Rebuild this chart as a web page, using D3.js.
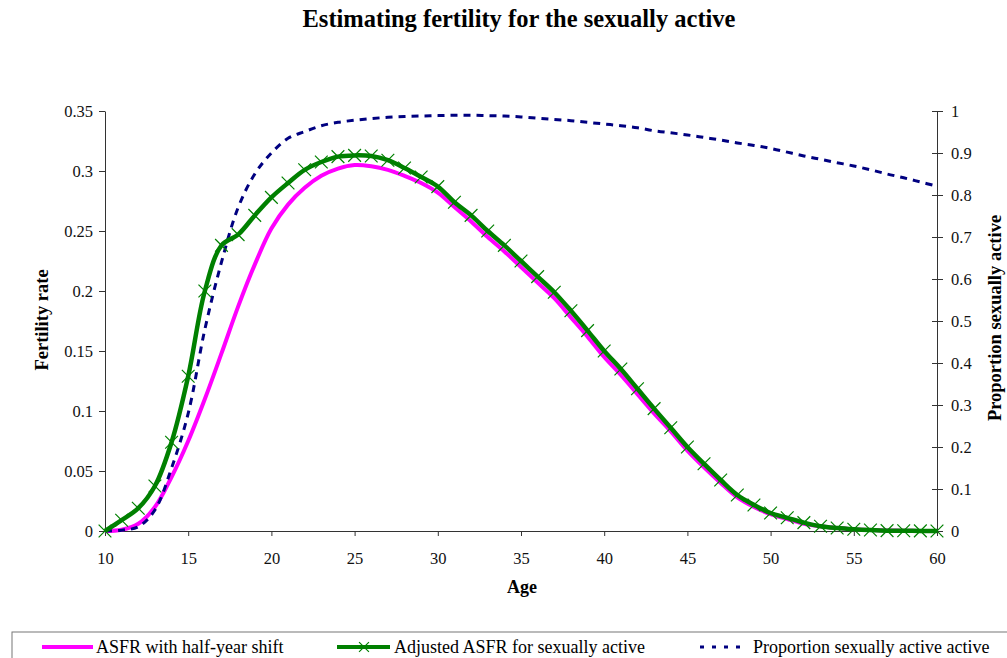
<!DOCTYPE html>
<html>
<head>
<meta charset="utf-8">
<script src="https://cdn.jsdelivr.net/npm/d3@7"></script>
<style>
  body { margin: 0; background: #fff; }
  text { font-family: "Liberation Serif", "Times New Roman", serif; }
</style>
</head>
<body>
<script>
// chart data
const ages = d3.range(10, 61);
const asfrShift = [0, 0.001, 0.006, 0.02, 0.045, 0.075, 0.11, 0.148, 0.187, 0.222,
  0.252, 0.272, 0.286, 0.296, 0.302, 0.305, 0.304, 0.301, 0.296, 0.29,
  0.282, 0.27, 0.258, 0.245, 0.233, 0.22, 0.207, 0.194, 0.178, 0.162,
  0.145, 0.13, 0.114, 0.098, 0.083, 0.067, 0.053, 0.04, 0.028, 0.02,
  0.014, 0.01, 0.006, 0.004, 0.0025, 0.0015, 0.0008, 0.0004, 0.0002, 0.0001, 0];
const asfrAdjusted = [0, 0.009, 0.019, 0.0375, 0.074, 0.129, 0.2, 0.238, 0.247, 0.263,
  0.278, 0.29, 0.301, 0.3075, 0.312, 0.313, 0.3125, 0.309, 0.3025, 0.295,
  0.287, 0.274, 0.263, 0.25, 0.238, 0.225, 0.212, 0.199, 0.1835, 0.167,
  0.15, 0.135, 0.1185, 0.102, 0.086, 0.07, 0.056, 0.0425, 0.03, 0.0217,
  0.015, 0.011, 0.007, 0.004, 0.0025, 0.0015, 0.0008, 0.0003, 0.0002, 0.0001, 0];
const propActive = [0, 0.002, 0.01, 0.05, 0.15, 0.28, 0.48, 0.64, 0.77, 0.85,
  0.9, 0.935, 0.951, 0.965, 0.973, 0.978, 0.982, 0.985, 0.987, 0.988,
  0.989, 0.99, 0.99, 0.989, 0.988, 0.986, 0.983, 0.98, 0.977, 0.973,
  0.969, 0.965, 0.96, 0.953, 0.948, 0.943, 0.937, 0.931, 0.924, 0.918,
  0.911, 0.902, 0.893, 0.885, 0.877, 0.869, 0.86, 0.85, 0.841, 0.831, 0.821];
const xTicks = [10, 15, 20, 25, 30, 35, 40, 45, 50, 55, 60];
const leftTicks = [0, 0.05, 0.1, 0.15, 0.2, 0.25, 0.3, 0.35];
const rightTicks = [0, 0.1, 0.2, 0.3, 0.4, 0.5, 0.6, 0.7, 0.8, 0.9, 1];
const seriesNames = ['ASFR with half-year shift', 'Adjusted ASFR for sexually active', 'Proportion sexually active active'];

const width = 1007;
const height = 658;
const axisColor = '#333';
const serif = '"Liberation Serif", "Times New Roman", serif';
// x marker shape (drawn rotated 45 degrees)
const markerPath = 'M-9,0L9,0M0,-9L0,9';

var svg = d3.select('body').append('svg')
  .attr('width', width)
  .attr('height', height)
  .attr('font-family', serif);

var x = d3.scaleLinear().domain([10, 60]).range([105, 937]);
var yL = d3.scaleLinear().domain([0, 0.35]).range([531, 111]);
var yR = d3.scaleLinear().domain([0, 1]).range([531, 111]);

// title
svg.append('text')
  .attr('x', 519).attr('y', 27)
  .attr('text-anchor', 'middle')
  .style('font-size', '24.5px')
  .style('font-weight', 'bold')
  .text('Estimating fertility for the sexually active');

// axes
var xAxis = svg.append('g')
  .attr('transform', 'translate(0,531)')
  .call(d3.axisBottom(x).tickValues(xTicks).tickSize(5).tickPadding(16).tickSizeOuter(0));

var leftAxis = svg.append('g')
  .attr('transform', 'translate(105,0)')
  .call(d3.axisLeft(yL).tickValues(leftTicks).tickFormat(d => String(+d.toFixed(2))).tickSize(6).tickPadding(6).tickSizeOuter(0));

var rightAxis = svg.append('g')
  .attr('transform', 'translate(937,0)')
  .call(d3.axisRight(yR).tickValues(rightTicks).tickFormat(d => String(+d.toFixed(1))).tickSize(6).tickPadding(8).tickSizeOuter(0));
// right ticks cross the axis line
rightAxis.selectAll('.tick line').attr('x1', -5);

[xAxis, leftAxis, rightAxis].forEach(function(a) {
  a.attr('font-family', serif).attr('font-size', 16.5);
  a.selectAll('path, line').attr('stroke', axisColor);
  a.selectAll('text').attr('fill', '#111');
});

// axis titles
svg.append('text')
  .attr('x', 522).attr('y', 593)
  .attr('text-anchor', 'middle')
  .style('font-size', '18px').style('font-weight', 'bold')
  .text('Age');

svg.append('text')
  .attr('transform', 'translate(48,320) rotate(-90)')
  .attr('text-anchor', 'middle')
  .style('font-size', '18.5px').style('font-weight', 'bold')
  .text('Fertility rate');

svg.append('text')
  .attr('transform', 'translate(1001,318) rotate(-90)')
  .attr('text-anchor', 'middle')
  .style('font-size', '18.5px').style('font-weight', 'bold')
  .text('Proportion sexually active');

// lines
var lineL = d3.line()
  .x((d, i) => x(ages[i]))
  .y(d => yL(d))
  .curve(d3.curveCatmullRom.alpha(0.5));
var lineR = d3.line()
  .x((d, i) => x(ages[i]))
  .y(d => yR(d))
  .curve(d3.curveCatmullRom.alpha(0.5));

svg.append('path')
  .datum(asfrShift)
  .attr('d', lineL)
  .attr('fill', 'none')
  .attr('stroke', '#FF00FF')
  .attr('stroke-width', 4);

svg.append('path')
  .datum(propActive)
  .attr('d', lineR)
  .attr('fill', 'none')
  .attr('stroke', '#000080')
  .attr('stroke-width', 3)
  .attr('stroke-dasharray', '7,6');

svg.append('path')
  .datum(asfrAdjusted)
  .attr('d', lineL)
  .attr('fill', 'none')
  .attr('stroke', '#008000')
  .attr('stroke-width', 4.5);

// x markers on the adjusted series
svg.append('g').selectAll('path')
  .data(asfrAdjusted)
  .join('path')
  .attr('transform', (d, i) => 'translate(' + x(ages[i]) + ',' + yL(d) + ') rotate(45)')
  .attr('d', markerPath)
  .attr('stroke', '#008000')
  .attr('stroke-width', 1.2)
  .attr('fill', 'none');

// legend
var legend = svg.append('g');
legend.append('rect')
  .attr('x', 12).attr('y', 632)
  .attr('width', 1010).attr('height', 40)
  .attr('fill', '#fff')
  .attr('stroke', '#777')
  .attr('stroke-width', 1);

legend.append('line')
  .attr('x1', 42).attr('x2', 93).attr('y1', 647).attr('y2', 647)
  .attr('stroke', '#FF00FF').attr('stroke-width', 4);
legend.append('text')
  .attr('x', 96).attr('y', 653)
  .style('font-size', '18px')
  .text(seriesNames[0]);

legend.append('line')
  .attr('x1', 337).attr('x2', 390).attr('y1', 647).attr('y2', 647)
  .attr('stroke', '#008000').attr('stroke-width', 4);
legend.append('path')
  .attr('transform', 'translate(364,647) rotate(45)')
  .attr('d', 'M-7,0L7,0M0,-7L0,7')
  .attr('stroke', '#008000').attr('stroke-width', 1.2);
legend.append('text')
  .attr('x', 394).attr('y', 653)
  .style('font-size', '18px')
  .text(seriesNames[1]);

legend.append('line')
  .attr('x1', 700).attr('x2', 740).attr('y1', 647).attr('y2', 647)
  .attr('stroke', '#000080').attr('stroke-width', 3)
  .attr('stroke-dasharray', '4,8');
legend.append('text')
  .attr('x', 753).attr('y', 653)
  .style('font-size', '18px')
  .text(seriesNames[2]);
</script>
</body>
</html>
